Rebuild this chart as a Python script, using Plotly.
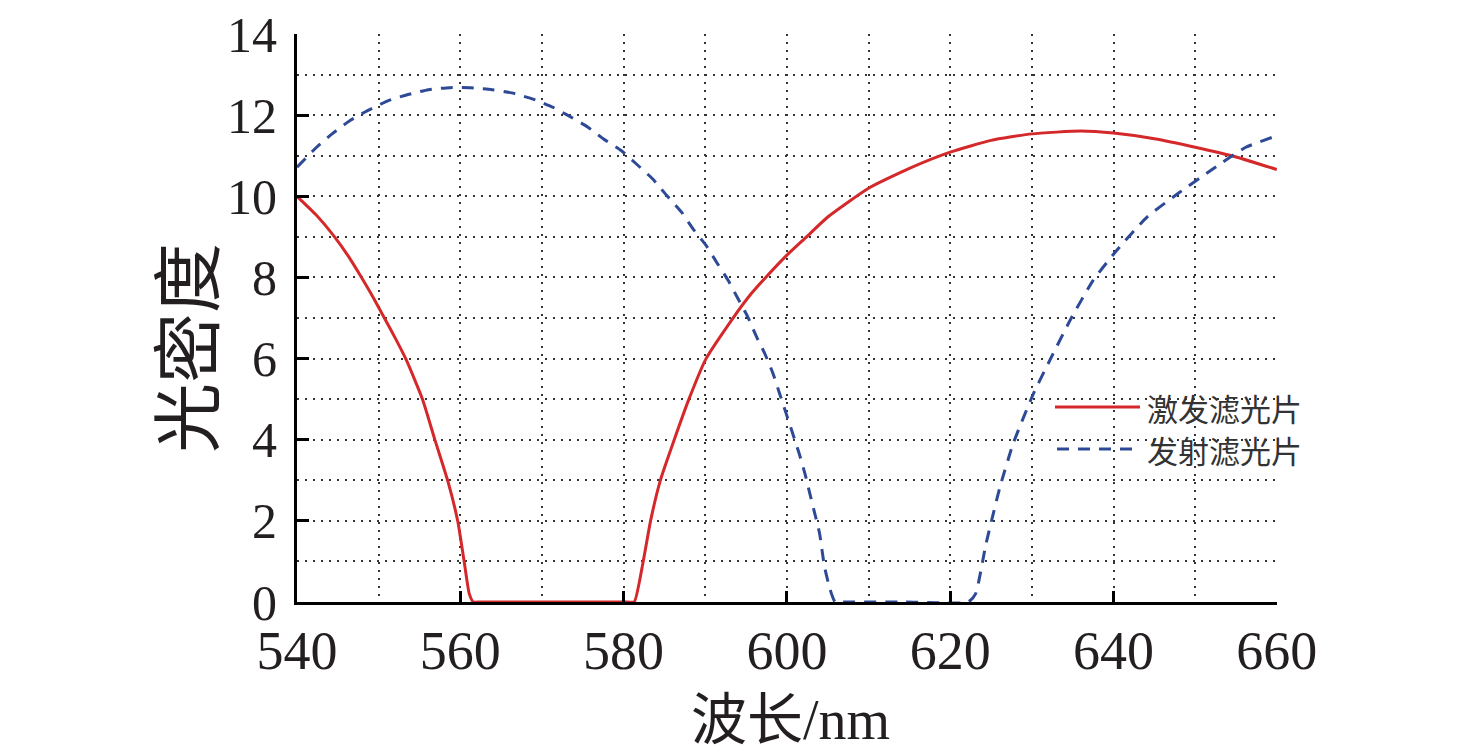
import plotly.graph_objects as go

# --------------------------------------------------
# DATA
# --------------------------------------------------

# 激发滤光片 (excitation filter)
ex_wl = [540, 542.3, 544.6, 546.3, 547.9, 549.3, 550.7, 552.1, 553.4, 555.4, 556.9,
         558.5, 559.7, 560.5, 561.1, 561.6, 562.5, 571, 580.5, 581.3, 582.4, 583.3,
         584.5, 586.2, 588.0, 590.1, 593.4, 595.3, 597.4, 600, 602.4, 605, 610, 615,
         620, 625, 630, 636, 640, 645, 650, 655, 660]
ex_od = [10.0, 9.55, 9.0, 8.52, 8.0, 7.52, 7.0, 6.48, 5.96, 4.98, 3.99,
         2.96, 1.98, 0.96, 0.2, 0, 0, 0, 0, 0, 1.0, 2.0,
         3.0, 4.0, 5.0, 6.0, 7.0, 7.52, 8.0, 8.55, 9.0, 9.49, 10.2, 10.69,
         11.09, 11.38, 11.54, 11.61, 11.56, 11.42, 11.21, 10.97, 10.66]

# 发射滤光片 (emission filter)
em_wl = [540, 542.4, 544.3, 546.5, 548.7, 551.2, 553.6, 556.1, 558.7, 561.2, 563.9,
         566.3, 569, 571.4, 573.4, 575.6, 577.5, 579.7, 581.5, 583.6, 585.2, 587.1,
         588.5, 590.1, 591.5, 592.8, 594, 595.2, 596.3, 597.3, 598.3, 599.1, 599.9,
         600.7, 601.5, 602.2, 602.8, 603.4, 604.0, 604.6, 605.3, 605.9, 606.8, 614.5,
         622.2, 623.1, 624.4, 626.1, 627.7, 630.2, 632.2, 634.7, 637.5, 640.4, 644.1,
         648.1, 652.2, 656.2, 659.5, 660]
em_od = [10.72, 11.21, 11.54, 11.87, 12.12, 12.36, 12.51, 12.63, 12.68, 12.68, 12.63,
         12.55, 12.39, 12.19, 11.97, 11.71, 11.42, 11.13, 10.81, 10.42, 10.04, 9.61,
         9.2, 8.79, 8.34, 7.93, 7.48, 7.03, 6.53, 6.12, 5.63, 5.14, 4.65,
         4.16, 3.66, 3.17, 2.68, 2.19, 1.69, 0.87, 0.3, 0, 0, 0,
         0, 0.2, 1.45, 2.84, 3.9, 5.14, 5.96, 6.95, 7.93, 8.67, 9.49,
         10.1, 10.68, 11.21, 11.46, 11.5]

series_names = ["激发滤光片", "发射滤光片"]
x_title = "波长/nm"
y_title = "光密度"
y_major = [0, 2, 4, 6, 8, 10, 12, 14]
y_minor = [1, 3, 5, 7, 9, 11, 13]

RED = "rgb(212,40,42)"
BLUE = "rgb(46,74,150)"
SERIF = "Liberation Serif, Noto Sans CJK SC"
CJK = "Noto Sans CJK SC, Liberation Serif"

# page body has an 8px margin, so the figure is made 8px smaller
W, H = 1468, 748
ML, MR, MT, MB = 289, 199, 26, 154
PW, PH = W - ML - MR, H - MT - MB


def px_x(px):
    # screen pixel -> paper x
    return (px - 8 - ML) / PW


def px_y(px):
    # screen pixel -> paper y
    return (H - MB - (px - 8)) / PH


# --------------------------------------------------
# FIGURE
# --------------------------------------------------

fig = go.Figure()

fig.add_trace(go.Scatter(
    x=ex_wl, y=ex_od, mode="lines", name=series_names[0],
    line=dict(color=RED, width=3, shape="spline", smoothing=0.5)
))

fig.add_trace(go.Scatter(
    x=em_wl, y=em_od, mode="lines", name=series_names[1],
    line=dict(color=BLUE, width=3, dash="12px,9px", shape="spline", smoothing=0.5)
))

grid = dict(gridcolor="#333333", gridwidth=1.5, griddash="2px,6px")

fig.update_layout(
    width=W,
    height=H,
    margin=dict(l=ML, r=MR, t=MT, b=MB),
    paper_bgcolor="white",
    plot_bgcolor="white",
    showlegend=False,
    font=dict(family=SERIF, size=50, color="#231f20"),
    xaxis=dict(
        range=[540, 660.02],
        dtick=20,
        tick0=540,
        automargin=False,
        showgrid=True,
        **grid,
        minor=dict(dtick=10, showgrid=True, ticks="", **grid),
        ticks="inside",
        ticklen=11,
        tickwidth=3,
        tickcolor="black",
        showline=True,
        linecolor="black",
        linewidth=3,
        zeroline=False,
        ticklabelstandoff=-1,
        ticklabeloverflow="allow",
        tickfont=dict(family=SERIF, size=54)
    ),
    yaxis=dict(
        range=[0, 14.002],
        tickmode="array",
        tickvals=y_major,
        automargin=False,
        showgrid=True,
        **grid,
        minor=dict(tickvals=y_minor, showgrid=True, ticks="", **grid),
        ticks="inside",
        ticklen=12,
        tickwidth=3,
        tickcolor="black",
        showline=True,
        linecolor="black",
        linewidth=3,
        zeroline=False,
        ticklabelstandoff=7,
        # the "14" label pokes above the figure top, keep it anyway
        ticklabeloverflow="allow",
        tickfont=dict(family=SERIF, size=50)
    )
)

# no dotted grid line along the top edge in the original
fig.add_shape(
    type="line", xref="paper", yref="paper", layer="between",
    x0=0.005, x1=1.005, y0=1, y1=1,
    line=dict(color="white", width=4)
)

# axis titles
fig.add_annotation(
    x=px_x(790), y=px_y(720), xref="paper", yref="paper", text=x_title,
    showarrow=False, xanchor="center", yanchor="middle",
    font=dict(family=SERIF, size=56)
)

fig.add_annotation(
    x=px_x(183), y=px_y(348), xref="paper", yref="paper",
    text=y_title, showarrow=False, textangle=-90,
    xanchor="center", yanchor="middle",
    font=dict(family=CJK, size=70)
)

# legend (drawn by hand so the line samples are as long as in the original)
fig.add_shape(
    type="rect", xref="paper", yref="paper", layer="between",
    x0=px_x(1050), x1=1.01, y0=px_y(470), y1=px_y(390),
    fillcolor="white", line=dict(width=0)
)
fig.add_shape(
    type="line", xref="paper", yref="paper",
    x0=px_x(1055), x1=px_x(1140), y0=px_y(407), y1=px_y(407),
    line=dict(color=RED, width=3)
)
fig.add_shape(
    type="line", xref="paper", yref="paper",
    x0=px_x(1057), x1=px_x(1136), y0=px_y(449), y1=px_y(449),
    line=dict(color=BLUE, width=3, dash="12px,9px")
)
for name, ypx in zip(series_names, [407, 449]):
    fig.add_annotation(
        x=px_x(1145), y=px_y(ypx), xref="paper", yref="paper",
        text=name, showarrow=False, xanchor="left", yanchor="middle",
        font=dict(family=CJK, size=31, color="#333333")
    )

fig.write_html("out.html")
